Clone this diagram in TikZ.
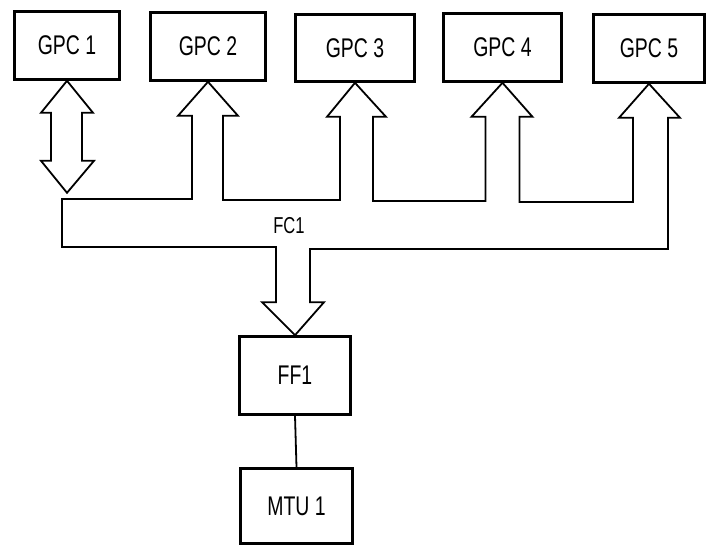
\documentclass[tikz,border=0pt]{standalone}
\usepackage{fontspec}
\setmainfont{Liberation Sans}[FakeStretch=0.72]
\usetikzlibrary{calc}
\begin{document}
\begin{tikzpicture}[x=1pt,y=-1pt,
  box/.style={draw,line width=2.6pt,inner sep=0pt,font=\fontsize{27}{30}\selectfont},
  bus/.style={draw,line width=1.8pt,line join=miter}]
\useasboundingbox (0,0) rectangle (709,549);
\node[box,minimum width=105,minimum height=68] (g1) at (67,45.5) {GPC 1};
\node[box,minimum width=115,minimum height=68] (g2) at (208,46.5) {GPC 2};
\node[box,minimum width=119,minimum height=67] (g3) at (355,48) {GPC 3};
\node[box,minimum width=118,minimum height=68] (g4) at (502.5,47.5) {GPC 4};
\node[box,minimum width=111,minimum height=68] (g5) at (649,48.5) {GPC 5};
\node[box,minimum width=111,minimum height=78] (ff) at (295,375.5) {FF1};
\node[box,minimum width=112,minimum height=75] (mtu) at (296.5,506) {MTU 1};
\draw[line width=1.8pt] (ff.south) -- (mtu.north);
% GPC1 double arrow
\coordinate (t1) at (g1.south);
\coordinate (b1) at ($(t1)+(0,112)$);
\draw[bus] (t1) -- ++(-26,32) -- ++(10,0) -- ++(0,48) -- ++(-10,0) -- (b1)
  -- ++(27,-32) -- ++(-12,0) -- ++(0,-48) -- ++(11,0) -- cycle;
% bus with arrows
\coordinate (t2) at (g2.south);
\coordinate (t3) at (g3.south);
\coordinate (t4) at (g4.south);
\coordinate (t5) at (g5.south);
\coordinate (tf) at (ff.north);
\coordinate (ya) at (0,199);
\coordinate (yb) at (0,200);
\coordinate (yc) at (0,201);
\coordinate (yd) at (0,202);
\coordinate (ye) at (0,249);
\coordinate (yf) at (0,247);
\draw[bus] (62,199) -- ([xshift=-16pt]t2 |- ya) -- ($(t2)+(-16,34)$) -- ($(t2)+(-30,34)$) -- (t2)
  -- ($(t2)+(30,34)$) -- ($(t2)+(15,34)$) -- ([xshift=15pt]t2 |- yb)
  -- ([xshift=-15pt]t3 |- yb) -- ($(t3)+(-15,34)$) -- ($(t3)+(-28,34)$) -- (t3)
  -- ($(t3)+(31,34)$) -- ($(t3)+(18,34)$) -- ([xshift=18pt]t3 |- yc)
  -- ([xshift=-17pt]t4 |- yc) -- ($(t4)+(-17,34)$) -- ($(t4)+(-31,34)$) -- (t4)
  -- ($(t4)+(30,34)$) -- ($(t4)+(17,34)$) -- ([xshift=17pt]t4 |- yd)
  -- ([xshift=-16pt]t5 |- yd) -- ($(t5)+(-16,34)$) -- ($(t5)+(-30,34)$) -- (t5)
  -- ($(t5)+(31,34)$) -- ($(t5)+(19,34)$) -- ([xshift=19pt]t5 |- ye)
  -- ([xshift=15pt]tf |- ye) -- ($(tf)+(15,-33)$) -- ($(tf)+(29,-33)$) -- (tf)
  -- ($(tf)+(-33,-33)$) -- ($(tf)+(-19,-33)$) -- ([xshift=-19pt]tf |- yf)
  -- (62,247) -- cycle;
\node[font=\fontsize{23}{26}\selectfont,inner sep=0pt] (fc) at (289,226) {FC1};
\end{tikzpicture}
\end{document}
